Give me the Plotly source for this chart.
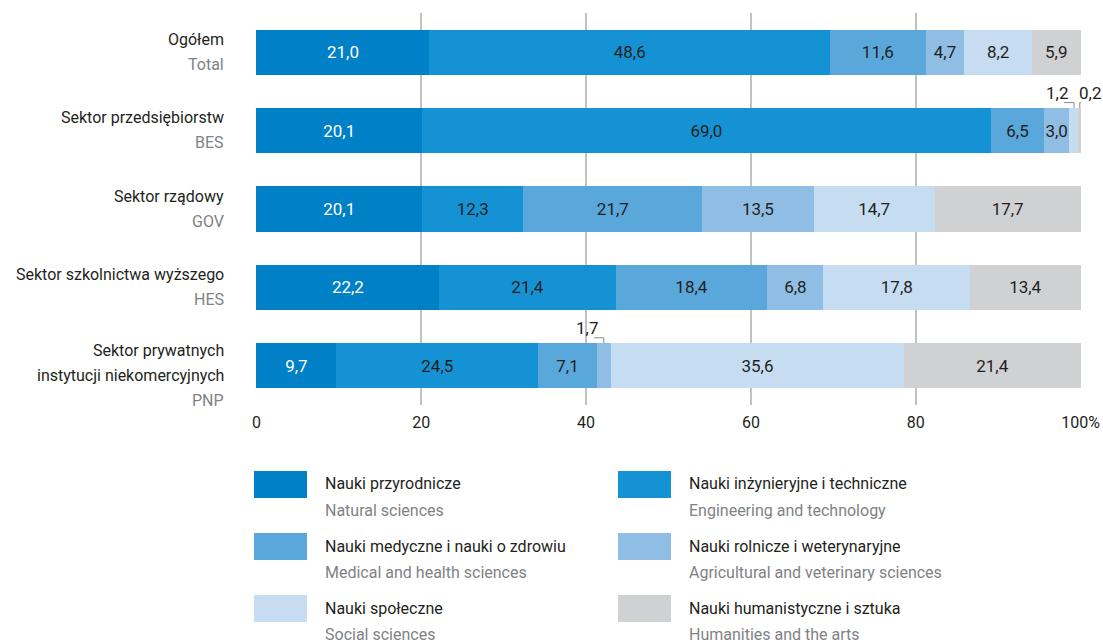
#!/usr/bin/env python3
"""
Struktura nakładów na B+R według dziedzin nauki i sektorów wykonawczych.
Stacked horizontal bar chart rebuilt with Plotly.
"""

import plotly.graph_objects as go

# --- data -------------------------------------------------------------------
sectors_pl = ["Ogółem", "Sektor przedsiębiorstw", "Sektor rządowy",
              "Sektor szkolnictwa wyższego",
              "Sektor prywatnych<br>instytucji niekomercyjnych"]
sectors_en = ["Total", "BES", "GOV", "HES", "PNP"]

fields_pl = ["Nauki przyrodnicze", "Nauki inżynieryjne i techniczne",
             "Nauki medyczne i nauki o zdrowiu", "Nauki rolnicze i weterynaryjne",
             "Nauki społeczne", "Nauki humanistyczne i sztuka"]
fields_en = ["Natural sciences", "Engineering and technology",
             "Medical and health sciences", "Agricultural and veterinary sciences",
             "Social sciences", "Humanities and the arts"]

natural = [21.0, 20.1, 20.1, 22.2, 9.7]
engineering = [48.6, 69.0, 12.3, 21.4, 24.5]
medical = [11.6, 6.5, 21.7, 18.4, 7.1]
agricultural = [4.7, 3.0, 13.5, 6.8, 1.7]
social = [8.2, 1.2, 14.7, 17.8, 35.6]
humanities = [5.9, 0.2, 17.7, 13.4, 21.4]

tick_vals = [0, 20, 40, 60, 80, 100]
tick_text = ["0", "20", "40", "60", "80", "100%"]

# --- style ------------------------------------------------------------------
colors = ["#0080C6", "#1592D4", "#5AA7DB", "#90BDE3", "#C6DDF1", "#D0D1D3"]
label_colors = ["white", "#231F20", "#231F20", "#231F20", "#231F20", "#231F20"]
DARK = "#231F20"
GREY = "#808285"
FONT = "Roboto, Liberation Sans, sans-serif"
FS = 16
SMALL = 2.0          # segments below this get an outside label with a leader

W, H = 1103, 644
# plot area in page pixels: x 256..1081, y 13..405
L, R, T, B = 256, W - 1081, 13, H - 405

series = [natural, engineering, medical, agricultural, social, humanities]
keys = list(range(len(sectors_en)))


def fmt(v):
    return f"{v:.1f}".replace(".", ",")


fig = go.Figure()
for name, vals, col, tcol in zip(fields_pl, series, colors, label_colors):
    fig.add_trace(go.Bar(
        name=name, y=keys, x=vals, orientation="h",
        marker=dict(color=col, line=dict(width=0)),
        text=[fmt(v) if v >= SMALL else "" for v in vals],
        textposition="inside", insidetextanchor="middle", textangle=0,
        constraintext="none",
        textfont=dict(family=FONT, size=17, color=tcol),
        showlegend=False, hoverinfo="skip",
    ))

annotations = []
shapes = []

# small-segment labels with bracket leaders (label left of the segment,
# except the last of several which goes right)
for i in keys:
    start = 0.0
    small = []
    for vals in series:
        v = vals[i]
        if v < SMALL:
            small.append((start + v / 2, v))
        start += v
    for k, (cx, v) in enumerate(small):
        side = 1 if (len(small) > 1 and k == len(small) - 1) else -1
        annotations.append(dict(
            x=cx, y=i, xref="x", yref="y", text=fmt(v), showarrow=False,
            xanchor="right" if side < 0 else "left",
            xshift=-4 if side < 0 else -3, yshift=38,
            font=dict(family=FONT, size=17, color=DARK)))
        if side < 0:
            path = "M-10,28 L0,28 L0,22.5"
        else:
            path = "M0,22.5 L0,28 L8,28"
        shapes.append(dict(
            type="path", path=path, xref="x", yref="y",
            xsizemode="pixel", ysizemode="pixel", xanchor=cx, yanchor=i,
            line=dict(color="#8A8A8A", width=1)))


# helpers: page pixel -> paper fraction
def px_x(p):
    return (p - L) / (W - L - R)


def px_y(p):
    return (H - B - p) / (H - T - B)


# category labels (Polish + English in grey)
for i, (pl, en) in enumerate(zip(sectors_pl, sectors_en)):
    lines = pl.split("<br>") + [en]
    n = len(lines)
    base = -13 if n == 2 else -15
    for j, t in enumerate(lines):
        annotations.append(dict(
            x=px_x(226), xref="paper", y=i, yref="y",
            yshift=-(base + j * 25), text=t, showarrow=False,
            xanchor="right", yanchor="middle",
            font=dict(family=FONT, size=FS, color=DARK if j < n - 1 else GREY)))

# legend drawn by hand in page pixel positions
for idx, (pl, en, col) in enumerate(zip(fields_pl, fields_en, colors)):
    row, colm = divmod(idx, 2)
    sx = 254 if colm == 0 else 618
    tx = 323 if colm == 0 else 687
    sy = 471 + row * 62
    shapes.append(dict(type="rect", xref="paper", yref="paper",
                       x0=px_x(sx), x1=px_x(sx + 53),
                       y0=px_y(sy), y1=px_y(sy + 27),
                       fillcolor=col, line=dict(width=0)))
    annotations.append(dict(x=px_x(tx), y=px_y(sy + 13), xref="paper",
                            yref="paper", text=pl, showarrow=False,
                            xanchor="left", yanchor="middle",
                            font=dict(family=FONT, size=FS, color=DARK)))
    annotations.append(dict(x=px_x(tx), y=px_y(sy + 39), xref="paper",
                            yref="paper", text=en, showarrow=False,
                            xanchor="left", yanchor="middle",
                            font=dict(family=FONT, size=FS, color=GREY)))

fig.update_layout(
    width=W, height=H, autosize=False, barmode="stack", bargap=0.423,
    margin=dict(l=L, r=R, t=T, b=B),
    plot_bgcolor="white", paper_bgcolor="white",
    font=dict(family=FONT, size=FS, color=DARK),
    annotations=annotations, shapes=shapes,
    xaxis=dict(range=[-0.05, 100.05], tickvals=tick_vals, ticktext=tick_text,
               showgrid=True, gridcolor="#C2C2C2", gridwidth=1.5,
               zeroline=False, showline=False, ticks="",
               ticklabelstandoff=6, automargin=False,
               tickfont=dict(family=FONT, size=FS, color=DARK)),
    yaxis=dict(range=[4.5, -0.5], showticklabels=False, showgrid=False,
               zeroline=False, showline=False, ticks="", automargin=False),
)

# drop the default body margin so the figure fills the window exactly
fig.write_html(
    "out.html",
    config={"responsive": False, "displayModeBar": False},
    post_script="document.documentElement.style.overflow='hidden';"
                "document.body.style.margin='0';"
                "document.body.style.overflow='hidden';",
)
